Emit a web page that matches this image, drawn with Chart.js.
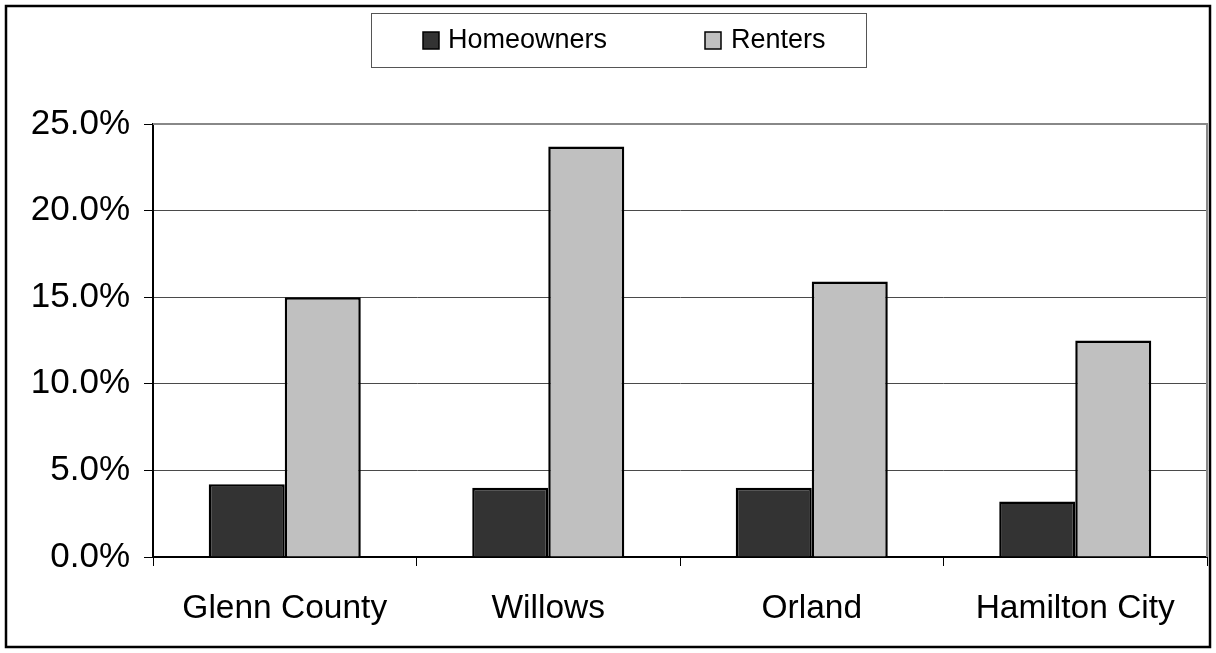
<!DOCTYPE html>
<html>
<head>
<meta charset="utf-8">
<script src="https://cdn.jsdelivr.net/npm/chart.js@4.4.1/dist/chart.umd.min.js"></script>
<style>
  html, body { margin: 0; padding: 0; background: #fff; }
  #wrap { width: 1216px; height: 653px; position: relative; }
</style>
</head>
<body>
<div id="wrap"><canvas id="c" width="1216" height="653"></canvas></div>
<script>
const categories = ["Glenn County", "Willows", "Orland", "Hamilton City"];
const homeowners = [4.2, 4.0, 4.0, 3.2];
const renters = [15.0, 23.7, 15.9, 12.5];
const seriesNames = ["Homeowners", "Renters"];
const seriesColors = ["#333333", "#C0C0C0"];
const yTicks = [0, 5, 10, 15, 20, 25];

const FONT = "'Liberation Sans', Arial, sans-serif";

const framePlugin = {
  id: 'frame',
  afterDraw(chart) {
    const ctx = chart.ctx;
    const a = chart.chartArea;
    ctx.save();
    // plot area top/right border
    ctx.strokeStyle = '#888888';
    ctx.lineWidth = 2;
    ctx.beginPath();
    ctx.moveTo(a.left, a.top);
    ctx.lineTo(a.right, a.top);
    ctx.lineTo(a.right, a.bottom);
    ctx.stroke();
    // outer border
    ctx.strokeStyle = '#000000';
    ctx.lineWidth = 2.5;
    ctx.strokeRect(6, 6, 1204, 641);
    // legend
    ctx.strokeStyle = '#555555';
    ctx.lineWidth = 1;
    ctx.strokeRect(371.5, 13.5, 495, 54);
    const items = [{x: 423, tx: 448}, {x: 705, tx: 731}];
    chart.data.datasets.forEach((ds, i) => {
      const it = items[i];
      ctx.fillStyle = ds.backgroundColor;
      ctx.fillRect(it.x, 32, 16, 17);
      ctx.strokeStyle = '#000';
      ctx.lineWidth = 1.5;
      ctx.strokeRect(it.x, 32, 16, 17);
      ctx.fillStyle = '#000';
      ctx.font = "27px " + FONT;
      ctx.textBaseline = 'alphabetic';
      ctx.textAlign = 'left';
      ctx.fillText(ds.label, it.tx, 48);
    });
    ctx.restore();
  }
};

new Chart(document.getElementById('c'), {
  type: 'bar',
  data: {
    labels: categories,
    datasets: [
      { label: seriesNames[0], data: homeowners, backgroundColor: seriesColors[0], borderColor: '#000', borderWidth: 2.5 },
      { label: seriesNames[1], data: renters, backgroundColor: seriesColors[1], borderColor: '#000', borderWidth: 2.5 }
    ]
  },
  options: {
    responsive: false,
    animation: false,
    devicePixelRatio: 1,
    layout: { padding: { top: 124, right: 9, left: 0, bottom: 0 } },
    datasets: { bar: { categoryPercentage: 0.577, barPercentage: 1.0 } },
    plugins: {
      legend: { display: false },
      tooltip: { enabled: false }
    },
    scales: {
      x: {
        offset: true,
        afterFit(s) { s.height = 96; },
        grid: { display: true, offset: true, drawOnChartArea: false, drawTicks: true, tickLength: 9, color: '#000', lineWidth: 1 },
        border: { display: true, color: '#000', width: 2 },
        ticks: { color: '#000', font: { family: FONT, size: 33.5 }, padding: 23, maxRotation: 0 }
      },
      y: {
        min: 0, max: 25,
        afterFit(s) { s.width = 153; },
        afterBuildTicks(s) { s.ticks = yTicks.map(v => ({ value: v })); },
        grid: { color: '#4a4a4a', lineWidth: 1, drawTicks: true, tickLength: 9, tickColor: '#000' },
        border: { display: true, color: '#000', width: 2 },
        ticks: { color: '#000', font: { family: FONT, size: 35 }, padding: 14, callback: v => v.toFixed(1) + '%' }
      }
    }
  },
  plugins: [framePlugin]
});
</script>
</body>
</html>
